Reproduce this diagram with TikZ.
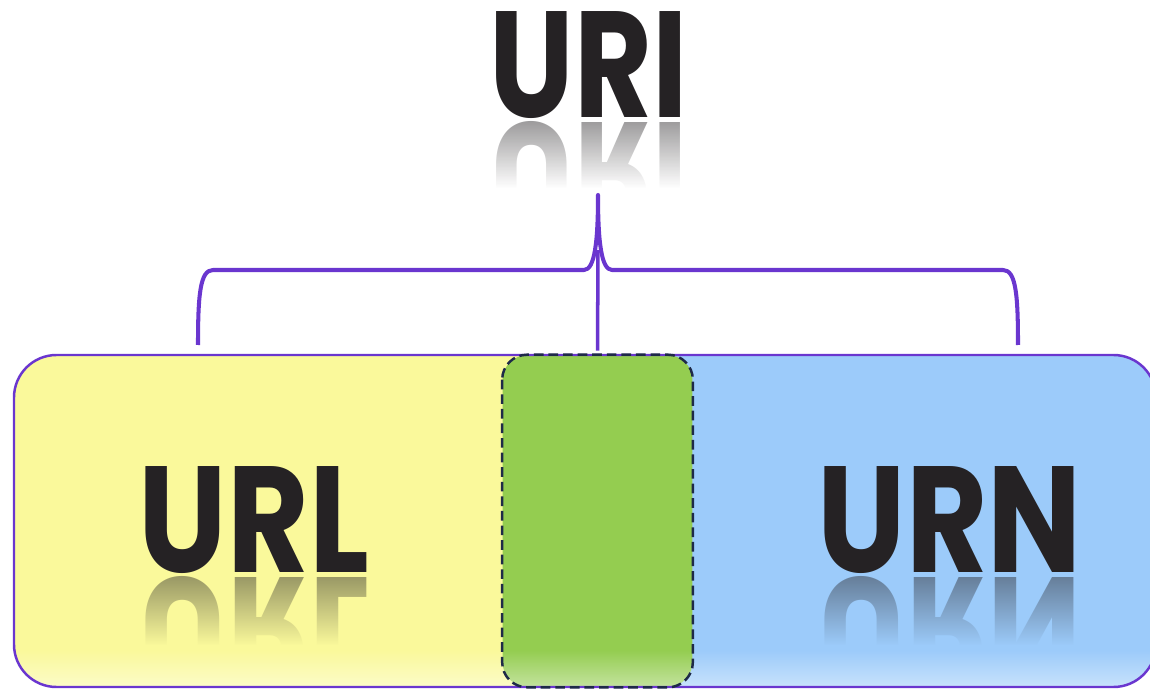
\documentclass[tikz,border=0pt]{standalone}
\usepackage{fontspec}
\setmainfont{Poppins}
\usetikzlibrary{fadings}

\definecolor{urlfill}{HTML}{FAF99B}
\definecolor{urnfill}{HTML}{9CCBFA}
\definecolor{bothfill}{HTML}{94CD50}
\definecolor{edge}{HTML}{6A36CF}
\definecolor{dashline}{HTML}{1E2A48}
\definecolor{letters}{HTML}{252224}

\tikzfading[name=mirror fade, top color=transparent!100, bottom color=transparent!0]

\tikzset{
  word/.style={inner sep=0pt, text=letters},
  mirror/.style={inner sep=0pt, text=letters, text opacity=.45, anchor=north},
  brace/.style={draw=edge, line width=2.3pt, line join=round},
  overlapbox/.style={inner sep=0pt, minimum width=3.8cm, minimum height=6.64cm},
}

\newcommand\bigword[2]{\resizebox{#1}{2.12cm}{\bfseries #2}}

\begin{document}
\begin{tikzpicture}[x=0.02cm, y=-0.02cm]
  \useasboundingbox (0,0) rectangle (1150,689);
  \def\boxtop{355}
  \def\boxbot{687}

  % title and its mirror image
  \node [word] (uri) at (589,65) {\bigword{3.96cm}{URI}};
  \node [mirror] at (589,121) {\scalebox{1}[-1]{\bigword{3.96cm}{URI}}};
  \fill [white, path fading=mirror fade] (480,121) rectangle (700,188);
  \fill [white] (480,188) rectangle (700,230);

  % the two halves, the overlap and the gloss
  \begin{scope}
    \clip [rounded corners=0.85cm] (14,\boxtop) rectangle (1156,\boxbot);
    \fill [urlfill] (14,\boxtop) rectangle (598,\boxbot);
    \fill [urnfill] (598,\boxtop) rectangle (1156,\boxbot);
    \node [mirror] at (254,576) {\scalebox{1}[-1]{\bigword{4.6cm}{URL}}};
    \node [mirror] at (950,576) {\scalebox{1}[-1]{\bigword{5.28cm}{URN}}};
    \fill [urlfill, path fading=mirror fade] (130,576) rectangle (380,645);
    \fill [urlfill] (130,645) rectangle (380,687);
    \fill [urnfill, path fading=mirror fade] (805,576) rectangle (1095,645);
    \fill [urnfill] (805,645) rectangle (1095,687);
    \node [overlapbox, fill=bothfill, rounded corners=0.5cm] (both) at (597.5,521) {};
    \fill [white, opacity=.45, path fading=mirror fade] (14,650) rectangle (1156,\boxbot);
  \end{scope}
  \draw [edge, line width=1.4pt, rounded corners=0.85cm] (14,\boxtop) rectangle (1156,\boxbot);
  \draw [dashline, line width=1.4pt, dash pattern=on 5.5pt off 2.8pt, rounded corners=0.5cm]
    (both.north west) rectangle (both.south east);

  \node [word] (url) at (254,520.5) {\bigword{4.6cm}{URL}};
  \node [word] (urn) at (950,520.5) {\bigword{5.28cm}{URN}};

  % brace from URI down to both halves
  \coordinate (tip) at (598,195);
  \coordinate (lend) at (198,345);
  \coordinate (rend) at (1018,345);
  \coordinate (stem) at (598,250);
  \draw [brace] (lend) .. controls (198,295) and (200,270) .. (213,270) -- (584,270)
    .. controls (595,270) and (598,240) .. (tip)
    .. controls (598,240) and (601,270) .. (612,270) -- (1003,270)
    .. controls (1016,270) and (1018,295) .. (rend);
  \draw [edge, line width=2pt, shorten >=0.08cm] (stem) -- (both.north);
\end{tikzpicture}
\end{document}
